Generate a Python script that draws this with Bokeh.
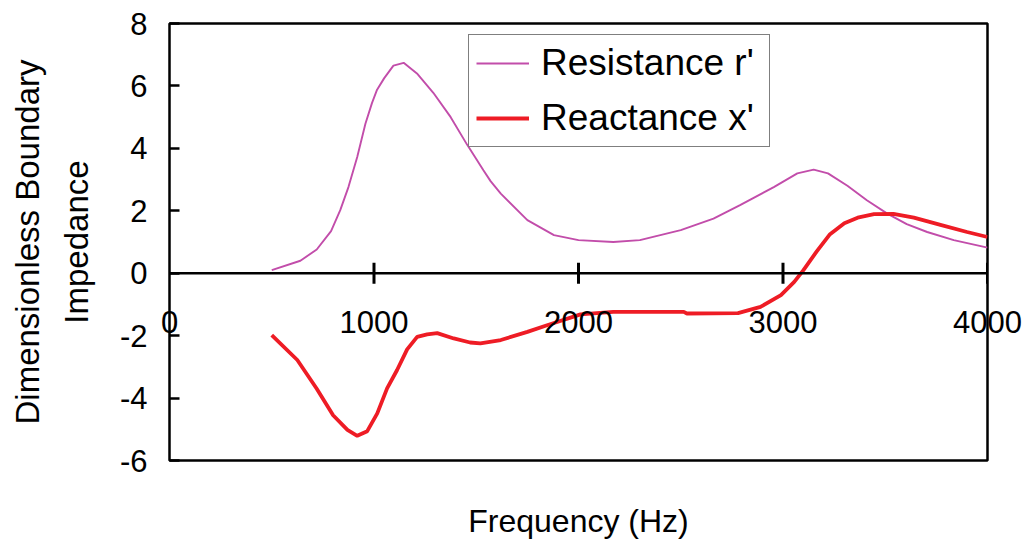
from bokeh.plotting import figure
from bokeh.models import Span, Legend, LegendItem, FixedTicker, Range1d
from bokeh.embed import file_html
from bokeh.resources import INLINE

# Data
res_freq = [500, 640, 720, 790, 835, 875, 918, 958, 990, 1015, 1050, 1095, 1145, 1210,
            1290, 1375, 1455, 1535, 1570, 1620, 1750, 1880, 2000, 2170, 2300, 2500,
            2660, 2790, 2955, 3070, 3150, 3220, 3315, 3410, 3510, 3605, 3705, 3835, 4000]
res_vals = [0.10, 0.40, 0.76, 1.35, 2.02, 2.76, 3.72, 4.79, 5.45, 5.88, 6.25, 6.65, 6.74,
            6.40, 5.78, 5.00, 4.12, 3.30, 2.95, 2.55, 1.70, 1.22, 1.06, 1.00, 1.06, 1.38,
            1.75, 2.18, 2.76, 3.20, 3.32, 3.20, 2.80, 2.34, 1.91, 1.57, 1.32, 1.06, 0.82]

rea_freq = [500, 625, 720, 800, 870, 918, 967, 1016, 1064, 1113, 1162, 1211, 1260, 1309,
            1390, 1470, 1520, 1620, 1750, 1850, 2010, 2170, 2515, 2530, 2780, 2890, 2990,
            3055, 3100, 3165, 3230, 3300, 3365, 3445, 3540, 3640, 3770, 3900, 4000]
rea_vals = [-1.98, -2.78, -3.70, -4.55, -5.02, -5.21, -5.06, -4.49, -3.69, -3.10, -2.44,
            -2.04, -1.96, -1.92, -2.09, -2.22, -2.25, -2.14, -1.88, -1.66, -1.32, -1.24,
            -1.24, -1.29, -1.28, -1.08, -0.70, -0.28, 0.10, 0.70, 1.25, 1.60, 1.78, 1.89,
            1.90, 1.78, 1.55, 1.32, 1.16]

x_ticks = [0, 1000, 2000, 3000, 4000]
x_tick_labels = ["0", "1000", "2000", "3000", "4000"]
y_ticks = [-6, -4, -2, 0, 2, 4, 6, 8]

FONT = "Liberation Sans"

p = figure(width=1026, height=544, output_backend="svg", toolbar_location=None,
           x_range=Range1d(0, 4000), y_range=Range1d(-6, 8),
           min_border_left=169, min_border_right=39, min_border_top=23,
           min_border_bottom=84)

p.outline_line_color = "black"
p.outline_line_width = 2.5
p.xgrid.visible = False
p.ygrid.visible = False
p.background_fill_color = "white"
p.border_fill_color = "white"

# y axis
p.yaxis.ticker = FixedTicker(ticks=y_ticks)
p.yaxis.major_label_overrides = {t: str(t) for t in y_ticks}
p.yaxis.axis_line_color = None
p.yaxis.major_tick_in = 10
p.yaxis.major_tick_out = 0
p.yaxis.major_tick_line_width = 2.5
p.yaxis.major_tick_line_color = "black"
p.yaxis.minor_tick_line_color = None
p.yaxis.major_label_standoff = 22
p.yaxis.major_label_text_font = FONT
p.yaxis.major_label_text_font_size = "31px"
p.yaxis.major_label_text_color = "black"
p.yaxis.axis_label = "Dimensionless Boundary\nImpedance"
p.yaxis.axis_label_text_font = FONT
p.yaxis.axis_label_text_font_size = "33px"
p.yaxis.axis_label_text_font_style = "normal"
p.yaxis.axis_label_text_color = "black"
p.yaxis.axis_label_text_line_height = 1.32
p.yaxis.axis_label_standoff = 22

# x axis: labels lifted up to sit just below the zero line
p.xaxis.ticker = FixedTicker(ticks=x_ticks)
p.xaxis.major_label_overrides = {t: s for t, s in zip(x_ticks, x_tick_labels)}
p.xaxis.axis_line_color = None
p.xaxis.major_tick_line_color = None
p.xaxis.major_tick_in = 0
p.xaxis.major_tick_out = 0
p.xaxis.minor_tick_line_color = None
p.xaxis.major_label_standoff = -150
p.xaxis.major_label_text_font = FONT
p.xaxis.major_label_text_font_size = "31px"
p.xaxis.major_label_text_color = "black"
p.xaxis.axis_label = "Frequency (Hz)"
p.xaxis.axis_label_text_font = FONT
p.xaxis.axis_label_text_font_size = "32px"
p.xaxis.axis_label_text_font_style = "normal"
p.xaxis.axis_label_text_color = "black"
p.xaxis.axis_label_standoff = 167

# zero line with crossing ticks
p.add_layout(Span(location=0, dimension="width", line_color="black", line_width=2.5))
p.scatter(x=x_ticks[1:], y=[0] * (len(x_ticks) - 1), marker="dash", size=21,
          angle=1.5708, line_color="black", line_width=3)

r1 = p.line(res_freq, res_vals, line_color="#C24DAA", line_width=1.9)
r2 = p.line(rea_freq, rea_vals, line_color="#EE1C25", line_width=3.8)

legend = Legend(items=[LegendItem(label="Resistance r'", renderers=[r1]),
                       LegendItem(label="Reactance x'", renderers=[r2])],
                location=(299, 313), orientation="vertical",
                label_text_font=FONT, label_text_font_size="37px",
                label_text_color="black", label_height=36, label_width=221,
                label_standoff=12, glyph_width=53, glyph_height=36, spacing=13,
                padding=7, margin=0,
                border_line_color="black", border_line_width=1.5,
                background_fill_color="white", background_fill_alpha=1.0)
p.add_layout(legend, "center")

open("out.html", "w").write(file_html(p, INLINE))
